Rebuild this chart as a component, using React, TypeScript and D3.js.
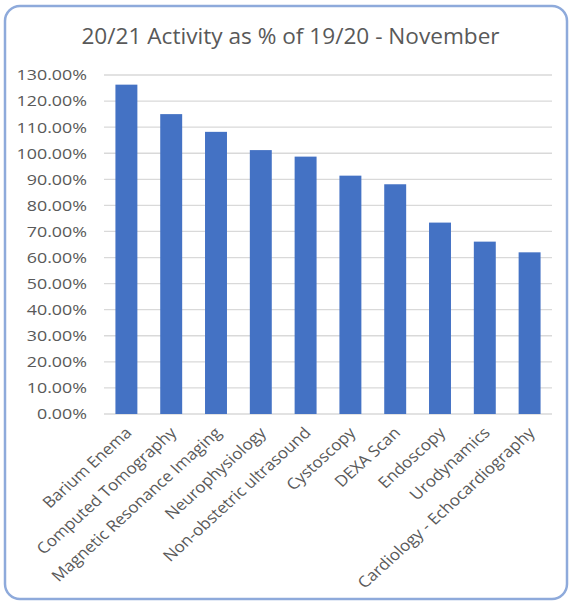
import React from "react";
import * as d3 from "d3";

const categories = [
  "Barium Enema",
  "Computed Tomography",
  "Magnetic Resonance Imaging",
  "Neurophysiology",
  "Non-obstetric ultrasound",
  "Cystoscopy",
  "DEXA Scan",
  "Endoscopy",
  "Urodynamics",
  "Cardiology - Echocardiography",
];
const values = [126.3, 115.0, 108.2, 101.2, 98.7, 91.4, 88.1, 73.4, 66.1, 62.0];
const yTicks = [0, 10, 20, 30, 40, 50, 60, 70, 80, 90, 100, 110, 120, 130];
const title = "20/21 Activity as % of 19/20 - November";

const W = 573;
const H = 604;
const left = 104;
const right = 552;
const top = 75;
const bottom = 414;
const FONT = "'Open Sans', Lato, sans-serif";
const SX = 1.1;

export default function App() {
  const x = d3.scaleBand<string>().domain(categories).range([left, right]).paddingInner(0.51).paddingOuter(0.255);
  const y = d3.scaleLinear().domain([0, 130]).range([bottom, top]);
  return (
    <svg width={W} height={H} style={{ position: "absolute", left: 0, top: 0, background: "#fff" }}>
      <rect x={0} y={0} width={W} height={H} fill="#fff" />
      <rect x={5} y={6} width={562} height={593} rx={15} ry={15} fill="#fff" stroke="#8eaadb" strokeWidth={2.5} />
      <text transform={`translate(290.5,44) scale(1.077,1)`} textAnchor="middle" fontFamily={FONT} fontSize={21} fill="#595959">
        {title}
      </text>
      {yTicks.map((t) => (
        <g key={t}>
          <line x1={left} x2={right} y1={y(t)} y2={y(t)} stroke="#d9d9d9" strokeWidth={1.3} />
          <text transform={`translate(87,${y(t)}) scale(1.19,1)`} dy="0.36em" textAnchor="end" fontFamily={FONT} fontSize={15} fill="#595959">
            {t.toFixed(2) + "%"}
          </text>
        </g>
      ))}
      {categories.map((c, i) => (
        <rect key={c} x={x(c)} y={y(values[i])} width={x.bandwidth()} height={bottom - y(values[i])} fill="#4472c4" />
      ))}
      {categories.map((c) => {
        const cx = (x(c) as number) + x.bandwidth() / 2 + 2;
        const cy = bottom + 16;
        return (
          <text key={c} transform={`translate(${cx},${cy}) scale(${SX},1) rotate(-45)`} textAnchor="end" fontFamily={FONT} fontSize={15.5} fill="#595959" dy="0.35em">
            {c}
          </text>
        );
      })}
    </svg>
  );
}
